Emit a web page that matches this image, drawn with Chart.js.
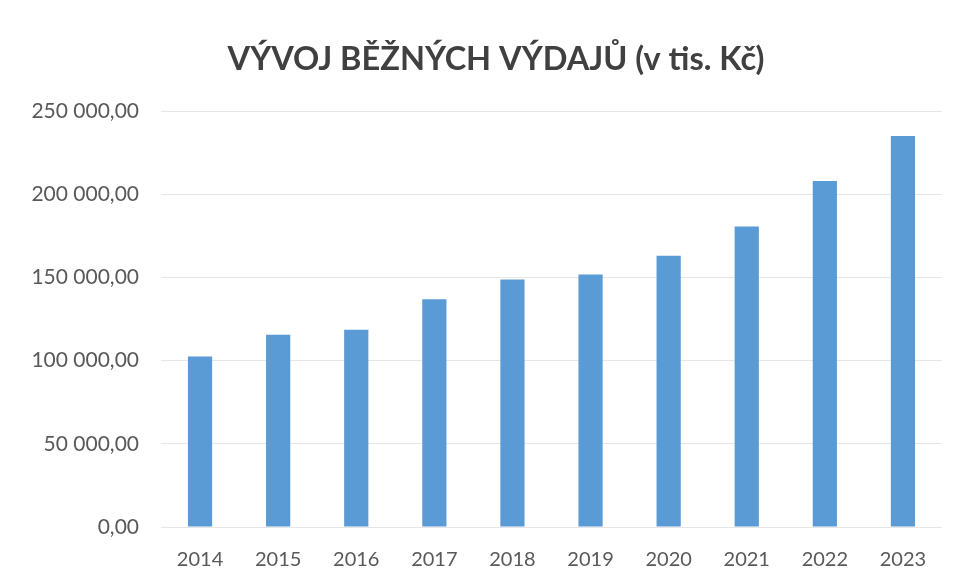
<!DOCTYPE html>
<html>
<head>
<meta charset="utf-8">
<script src="https://cdn.jsdelivr.net/npm/chart.js@4/dist/chart.umd.min.js"></script>
<style>
  html, body { margin: 0; padding: 0; background: #fff; }
  #wrap { width: 955px; height: 580px; }
</style>
</head>
<body>
<div id="wrap"><canvas id="vydaje_chart" width="955" height="580"></canvas></div>
<script>
// jshint esversion: 6

const years = ['2014', '2015', '2016', '2017', '2018', '2019', '2020', '2021', '2022', '2023'];
const expenses = [102400, 115600, 118600, 136800, 148800, 151800, 163000, 180600, 208000, 235000];
const y_ticks = [0, 50000, 100000, 150000, 200000, 250000];

function czech_number(v)
{
    let parts = v.toFixed(2).split('.');
    let whole = parts[0].replace(/\B(?=(\d{3})+(?!\d))/g, ' ');
    return whole + ',' + parts[1];
}

// the title in the original sits a little right of the canvas centre
const shift_title = {
    id: 'shift_title',
    afterLayout(chart) {
        if (chart.titleBlock) {
            chart.titleBlock.left += 50;
        }
    }
};

const ctx = document.getElementById('vydaje_chart').getContext('2d');
let myChart = new Chart(ctx, {
    type: 'bar',
    data: {
        labels: years,
        datasets: [{
            label: 'Běžné výdaje',
            data: expenses,
            backgroundColor: '#5B9BD5',
            borderWidth: 0,
            categoryPercentage: 1.0,
            barPercentage: 0.31
        }]
    },
    plugins: [shift_title],
    options: {
        responsive: false,
        animation: false,
        layout: {
            padding: { left: 0, right: 13, top: 40, bottom: 0 }
        },
        plugins: {
            legend: { display: false },
            tooltip: { enabled: false },
            title: {
                display: true,
                text: 'VÝVOJ BĚŽNÝCH VÝDAJŮ (v tis. Kč)',
                color: '#404040',
                font: { family: 'Lato', size: 32.5, weight: 'bold' },
                padding: { top: 0, bottom: 32 }
            }
        },
        scales: {
            x: {
                afterFit: function(scale) { scale.height = 53; },
                grid: { display: false },
                border: { display: false },
                ticks: {
                    color: '#595959',
                    font: { family: 'Lato', size: 20 },
                    padding: 13
                }
            },
            y: {
                min: 0,
                max: 250000,
                afterFit: function(scale) { scale.width = 161; },
                afterBuildTicks: function(scale) {
                    scale.ticks = y_ticks.map(v => ({ value: v }));
                },
                grid: { color: '#E6E6E6', lineWidth: 1, drawTicks: false },
                border: { display: false },
                ticks: {
                    color: '#595959',
                    font: { family: 'Lato', size: 21 },
                    padding: 22,
                    callback: function(value) { return czech_number(value); }
                }
            }
        }
    }
});
</script>
</body>
</html>
